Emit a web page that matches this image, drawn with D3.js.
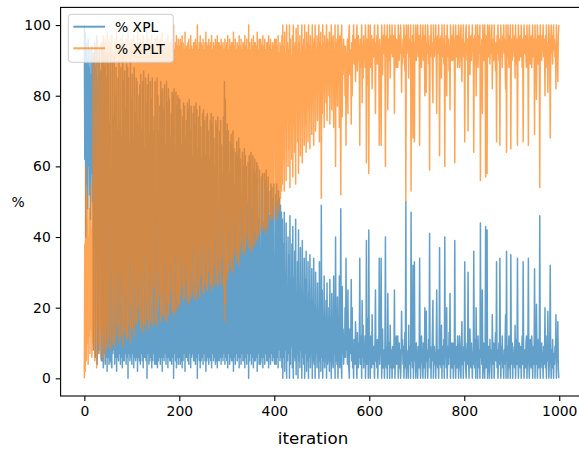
<!DOCTYPE html>
<html><head><meta charset="utf-8">
<script src="https://cdn.jsdelivr.net/npm/d3@7"></script>
<style>body{margin:0;background:#fff}svg{display:block}text{font-family:"DejaVu Sans",sans-serif;fill:#000}</style>
</head><body><svg id="c" width="579" height="451"></svg>
<script>
// % XPL, iterations 0-999
const xpl_000 = [100,62,98,40,95,55,90,48,96,60,88,52,93,45,86,58,94,50,90,8,92,57,95,6,88,60,97,4,85,7,90,8,93,45,87,6,5,
94,5,90,3,95,7,88,4,92,6,85,2,91,
6,89,4,72,5,92,5,4,3,90,7,74,8,91,4,80,6,88,2,70,6,85,5,90,7,72,4,88,6,68,3,91,5,84,5,87,7,76,4,89,6,88,0,85,7,66,5,90,6,79,
4,86,7,68,3,88,6,75,5,85,6,84,2,72,6,80,5,83,4,86,7,70,5,84,3,87,6,65,6,85,5,78,0,83,7,86,4,69,5,84,6,79,3,85,5,70,7,74,4,84,
7,4,5,85,3,80,5,70,6,77,4,84,6,81,2,82,6,76,5,83,7,66,4,84,6,78,3,82,6,79,5,68,5,75,4,81,6,80,0,82,7,64,5,81,3,77,6,80,4,79];
const xpl_200 = [6,79,4,76,5,66,3,74,5,78,7,77,2,68,6,73,6,78,5,76,4,79,7,70,3,77,6,63,7,75,5,77,5,72,4,78,6,76,0,65,7,74,5,77,3,71,5,62,6,75,
4,76,7,73,5,63,2,74,5,75,6,70,4,62,6,73,5,75,3,72,7,74,5,68,6,60,4,73,5,71,3,74,6,5,5,70,6,73,4,66,6,58,5,74,7,84,4,79,6,70,
5,72,3,70,7,58,4,67,6,69,5,66,5,70,2,65,6,55,4,64,7,67,5,63,6,68,3,65,6,62,4,52,7,64,5,60,5,65,3,63,6,60,4,50,7,61,0,63,5,62,
7,64,4,48,6,63,3,59,5,62,5,58,6,61,2,60,7,45,4,59,6,4,5,57,6,58,3,44,6,58,4,56,7,59,5,54,5,57,3,46,6,53,4,55,7,54,5,51,6,55];
const xpl_400 = [5,4,7,52,4,55,6,50,3,53,8,51,5,49,6,47,3,45,0,38,6,47,2,30,8,44,0,25,5,40,7,35,0,46,4,22,9,38,3,43,0,28,6,36,5,45,1,18,7,33,
0,42,5,26,3,37,8,20,0,39,6,15,4,34,0,28,7,36,2,12,5,33,0,24,6,35,3,10,8,31,0,22,5,34,4,18,0,30,7,14,3,27,6,8,0,33,5,21,2,49,
6,25,0,18,5,29,3,8,7,22,0,27,4,6,9,20,2,28,5,12,0,24,6,5,3,29,7,16,0,40,5,10,4,23,0,7,6,29,3,19,48,5,0,26,7,14,4,12,6,20,
6,34,8,18,4,25,9,3,0,14,7,10,28,5,20,3,8,0,11,6,4,16,9,5,0,13,7,3,10,6,34,4,8,12,0,22,6,15,3,9,5,12,0,7,39,4,10,17,0,42];
const xpl_600 = [5,9,0,12,6,3,18,8,4,9,6,0,10,25,5,7,3,11,0,8,6,34,4,9,7,34,0,5,14,3,8,6,0,10,40,5,3,9,0,24,7,4,10,0,15,6,3,8,0,9,
6,3,8,25,0,5,9,12,4,7,12,0,6,10,3,8,0,5,19,7,11,4,9,0,6,13,3,50,0,8,5,7,0,15,4,9,6,0,47,5,10,3,32,0,7,33,5,8,0,10,
6,4,0,9,7,3,34,5,0,8,12,6,4,0,10,7,3,20,0,6,19,5,8,0,4,11,6,41,3,9,0,7,5,14,22,0,6,9,4,7,0,10,25,5,3,8,0,6,37,4,
7,3,15,0,9,5,4,11,0,40,6,8,3,20,0,5,9,4,13,6,24,0,7,10,3,6,10,0,8,4,39,5,0,9,6,3,12,7,0,5,12,8,3,0,10,16,4,7,0,9];
const xpl_800 = [5,33,8,3,0,7,10,4,30,6,0,9,14,5,3,10,7,0,6,4,36,8,3,11,0,20,6,9,0,12,5,3,8,0,44,6,10,4,25,0,7,10,5,0,8,43,3,6,42,0,
6,9,4,0,11,5,8,3,0,18,7,4,10,0,6,9,13,5,33,3,8,0,6,10,4,34,7,0,9,5,12,3,6,0,8,4,10,18,0,36,5,9,0,7,12,3,6,0,35,8,
4,10,0,7,5,9,3,15,0,6,11,4,34,8,0,6,10,5,3,9,0,7,12,4,33,6,0,8,5,3,10,12,0,6,9,34,4,0,7,11,5,3,12,8,0,6,9,4,31,0,
7,4,21,9,0,5,11,3,6,46,0,8,5,10,3,7,0,9,4,6,20,3,8,0,12,5,19,7,0,4,10,32,6,0,8,3,11,5,0,7,4,9,6,18,0,10,5,16,3,0];

// % XPLT, iterations 0-999
const xplt_000 = [0,38,2,60,5,45,10,52,4,40,12,48,7,55,14,42,6,50,10,92,8,43,5,94,12,40,3,96,15,93,10,92,7,55,13,94,95,
6,95,10,97,5,93,12,96,8,94,15,98,9,
94,11,96,28,95,8,95,96,97,10,93,26,92,9,96,20,94,12,98,30,94,15,95,10,93,28,96,12,94,32,97,9,95,16,95,13,93,24,96,11,94,12,100,15,93,34,95,10,94,21,
96,14,93,32,97,12,94,25,95,15,94,16,98,28,94,20,95,17,96,14,93,30,95,16,97,13,94,35,94,15,95,22,100,17,93,14,96,31,95,16,94,21,97,15,95,30,93,26,96,16,
93,96,95,15,97,20,95,30,94,23,96,16,94,19,98,18,94,24,95,17,93,34,96,16,94,22,97,18,94,21,95,32,95,25,96,19,94,20,100,18,93,36,95,19,97,23,94,20,96,21];
const xplt_200 = [94,21,96,24,95,34,97,26,95,22,93,23,98,32,94,27,94,22,95,24,96,21,93,30,97,23,94,37,93,25,95,23,95,28,96,22,94,24,100,35,93,26,95,23,97,29,95,38,94,25,
96,24,93,27,95,37,98,26,95,25,94,30,96,38,94,27,95,25,97,28,93,26,95,32,94,40,96,27,95,29,97,26,94,95,95,30,94,27,96,34,94,42,95,26,93,16,96,21,94,30,
95,28,97,30,93,42,96,33,94,31,95,34,95,30,98,35,94,45,96,36,93,33,95,37,94,32,97,35,94,38,96,48,93,36,95,40,95,35,97,37,94,40,96,50,93,39,100,37,95,38,
93,36,96,52,94,37,97,41,95,38,95,42,94,39,98,40,93,55,96,41,94,96,95,43,94,42,97,56,94,42,96,44,93,41,95,46,95,43,97,54,94,47,96,45,93,46,95,49,94,45];
const xplt_400 = [95,96,93,48,96,45,94,50,97,47,92,49,95,51,94,53,97,55,100,62,94,53,98,70,92,56,100,75,95,60,93,65,100,54,96,78,91,62,97,57,100,72,94,64,95,55,99,82,93,67,
100,58,95,74,97,63,92,80,100,61,94,85,96,66,100,72,93,64,98,88,95,67,100,76,94,65,97,90,92,69,100,78,95,66,96,82,100,70,93,86,97,73,94,92,100,67,95,79,98,51,
94,75,100,82,95,71,97,92,93,78,100,73,96,94,91,80,98,72,95,88,100,76,94,95,97,71,93,84,100,60,95,90,96,77,100,93,94,71,97,81,52,95,100,74,93,86,96,88,94,80,
94,66,92,82,96,75,91,97,100,86,93,90,72,95,80,97,92,100,89,94,96,84,91,95,100,87,93,97,90,94,66,96,92,88,100,78,94,85,97,91,95,88,100,93,61,96,90,83,100,58];
const xplt_600 = [95,91,100,88,94,97,82,92,96,91,94,100,90,75,95,93,97,89,100,92,94,66,96,91,93,66,100,95,86,97,92,94,100,90,60,95,97,91,100,76,93,96,90,100,85,94,97,92,100,91,
94,97,92,75,100,95,91,88,96,93,88,100,94,90,97,92,100,95,81,93,89,96,91,100,94,87,97,50,100,92,95,93,100,85,96,91,94,100,53,95,90,97,68,100,93,67,95,92,100,90,
94,96,100,91,93,97,66,95,100,92,88,94,96,100,90,93,97,80,100,94,81,95,92,100,96,89,94,59,97,91,100,93,95,86,78,100,94,91,96,93,100,90,75,95,97,92,100,94,63,96,
93,97,85,100,91,95,96,89,100,60,94,92,97,80,100,95,91,96,87,94,76,100,93,90,97,94,90,100,92,96,61,95,100,91,94,97,88,93,100,95,88,92,97,100,90,84,96,93,100,91];
const xplt_800 = [95,67,92,97,100,93,90,96,70,94,100,91,86,95,97,90,93,100,94,96,64,92,97,89,100,80,94,91,100,88,95,97,92,100,56,94,90,96,75,100,93,90,95,100,92,57,97,94,58,100,
94,91,96,100,89,95,92,97,100,82,93,96,90,100,94,91,87,95,67,97,92,100,94,90,96,66,93,100,91,95,88,97,94,100,92,96,90,82,100,64,95,91,100,93,88,97,94,100,65,92,
96,90,100,93,95,91,97,85,100,94,89,96,66,92,100,94,90,95,97,91,100,93,88,96,67,94,100,92,95,97,90,88,100,94,91,66,96,100,93,89,95,97,88,92,100,94,91,96,69,100,
93,96,79,91,100,95,89,97,94,54,100,92,95,90,97,93,100,91,96,94,80,97,92,100,88,95,81,93,100,96,90,68,94,100,92,97,89,95,100,93,96,91,94,82,100,90,95,84,97,100];

const xTickValues = [0, 200, 400, 600, 800, 1000];
const yTickValues = [0, 20, 40, 60, 80, 100];
const seriesNames = ["% XPL", "% XPLT"];
const seriesColors = ["#1f77b4", "#ff7f0e"];
const xLabel = "iteration";
const yLabel = "%";

const xpl = [].concat(xpl_000, xpl_200, xpl_400, xpl_600, xpl_800);
const xplt = [].concat(xplt_000, xplt_200, xplt_400, xplt_600, xplt_800);
const series = [xpl, xplt];

const svg = d3.select("#c");
const L = 60.6, R = 582.5, T = 7.4, B = 396;
const x = d3.scaleLinear().domain([-49.95, 1048.95]).range([L, R]);
const y = d3.scaleLinear().domain([-5, 105]).range([B, T]);

svg.append("defs").append("clipPath").attr("id", "clip")
  .append("rect").attr("x", L).attr("y", T).attr("width", R - L).attr("height", B - T);

const line = d3.line().x((d, i) => x(i)).y(d => y(d));
const g = svg.append("g").attr("clip-path", "url(#clip)");
series.forEach((s, k) => {
  g.append("path").datum(s).attr("d", line)
    .attr("fill", "none").attr("stroke", seriesColors[k])
    .attr("stroke-opacity", 0.7).attr("stroke-width", 1.5)
    .attr("stroke-linejoin", "round");
});

// axes
const tk = 4.9, pad = 4.9, fs = 13.9;
const xa = svg.append("g").attr("transform", `translate(0,${B})`)
  .call(d3.axisBottom(x).tickValues(xTickValues).tickFormat(d3.format("d")).tickSize(tk).tickPadding(pad).tickSizeOuter(0));
const ya = svg.append("g").attr("transform", `translate(${L},0)`)
  .call(d3.axisLeft(y).tickValues(yTickValues).tickFormat(d3.format("d")).tickSize(tk).tickPadding(pad).tickSizeOuter(0));
[xa, ya].forEach(a => {
  a.select(".domain").remove();
  a.selectAll(".tick line").attr("stroke", "#000").attr("stroke-width", 1.1);
  a.selectAll(".tick text").attr("font-size", fs).attr("font-family", "DejaVu Sans").attr("fill", "#000");
});
svg.append("rect").attr("x", L).attr("y", T).attr("width", R - L).attr("height", B - T)
  .attr("fill", "none").attr("stroke", "#000").attr("stroke-width", 1.1);

svg.append("text").attr("x", 313).attr("y", 444).attr("text-anchor", "middle")
  .attr("font-size", 16.7).text(xLabel);
svg.append("text").attr("x", 18).attr("y", 201.7).attr("dy", "0.35em").attr("text-anchor", "middle")
  .attr("font-size", 13.9).text(yLabel);

// legend
const lg = svg.append("g");
lg.append("rect").attr("x", 68.3).attr("y", 14.3).attr("width", 105).attr("height", 48).attr("rx", 3)
  .attr("fill", "#fff").attr("fill-opacity", 0.8).attr("stroke", "#cccccc").attr("stroke-width", 1);
seriesNames.forEach((n, k) => {
  const yy = 26.7 + k * 21.6;
  lg.append("line").attr("x1", 73.3).attr("x2", 105).attr("y1", yy).attr("y2", yy)
    .attr("stroke", seriesColors[k]).attr("stroke-opacity", 0.7).attr("stroke-width", 2);
  lg.append("text").attr("x", 115).attr("y", yy).attr("dy", "0.38em").attr("font-size", fs).text(n);
});
</script></body></html>
